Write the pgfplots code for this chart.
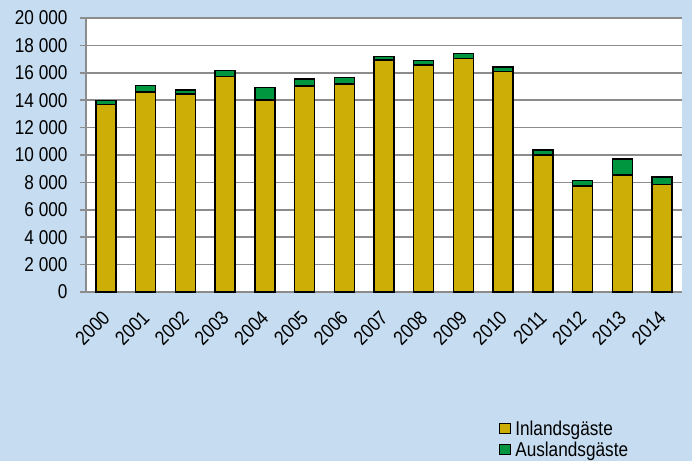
\documentclass[border=0pt]{standalone}
\usepackage{pgfplots}
\pgfplotsset{compat=1.18}
\usepackage{fontspec}
\setmainfont{Liberation Sans}[FakeStretch=0.86]
\definecolor{bgblue}{RGB}{198,221,241}
\definecolor{inland}{RGB}{204,174,6}
\definecolor{ausland}{RGB}{0,150,64}
\definecolor{gridgray}{RGB}{140,140,140}
\begin{document}
\begin{tikzpicture}[x=1pt,y=1pt]
\fill[bgblue] (0,0) rectangle (692,461);
\begin{axis}[
  at={(86pt,169pt)}, anchor=south west,
  width=596pt, height=274pt, scale only axis,
  axis background/.style={fill=white},
  ybar stacked, bar width=20pt,
  xmin=-0.5, xmax=14.5, ymin=0, ymax=20000,
  xtick={0,...,14},
  xticklabels={2000,2001,2002,2003,2004,2005,2006,2007,2008,2009,2010,2011,2012,2013,2014},
  x tick label style={rotate=45, anchor=north east, xshift=-8pt, yshift=-1pt},
  major x tick style={draw=none},
  extra x ticks={-0.5,0.5,...,14.5},
  extra x tick labels={},
  extra x tick style={major tick length=6pt, tick style={gridgray, line width=1.5pt}, xmajorgrids=false},
  ytick={0,2000,...,20000},
  scaled y ticks=false,
  /pgf/number format/.cd, 1000 sep={\ }, assume math mode=true, /pgfplots/.cd,
  ymajorgrids, major grid style={gridgray, line width=1.5pt},
  axis x line*=bottom, axis y line*=left,
  axis line style={gridgray, line width=1.5pt, -},
  y tick style={gridgray, line width=1.5pt},
  tick align=outside, major tick length=6pt,
  y tick label style={xshift=-9pt},
  tick label style={font=\fontsize{20}{22}\selectfont, text=black},
  legend style={at={(0.692,-0.465)}, anchor=north west, draw=none, fill=none,
    font=\fontsize{20}{22}\selectfont, row sep=3pt, inner sep=0pt,
    nodes={inner sep=1pt}},
  legend cell align=left,
  legend image code/.code={\draw[#1, line width=1.3pt] (0pt,-5pt) rectangle (11pt,5pt); \path[draw=none, fill=none] (0pt,0pt) -- (15pt,0pt);},
]
\addplot[fill=inland, draw=black, line width=1.5pt] coordinates {
(0,13700) (1,14600) (2,14470) (3,15740) (4,14030) (5,15050) (6,15200) (7,16930)
(8,16570) (9,17030) (10,16100) (11,9990) (12,7720) (13,8550) (14,7850)};
\addlegendentry{Inlandsgäste}
\addplot[fill=ausland, draw=black, line width=1.5pt] coordinates {
(0,260) (1,480) (2,270) (3,440) (4,880) (5,510) (6,460) (7,270)
(8,340) (9,390) (10,340) (11,390) (12,420) (13,1150) (14,530)};
\addlegendentry{Auslandsgäste}
\end{axis}
\end{tikzpicture}
\end{document}
